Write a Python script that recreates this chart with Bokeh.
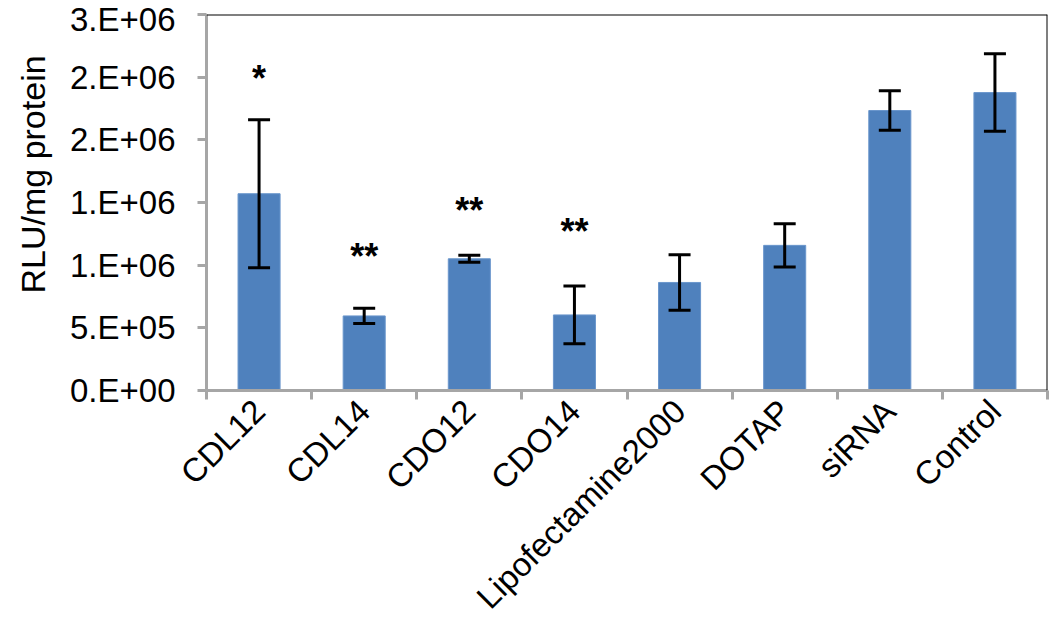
import math
from bokeh.plotting import figure
from bokeh.models import (Range1d, FixedTicker, LinearAxis, ColumnDataSource,
                          Whisker, TeeHead, Span, Title)
from bokeh.core.properties import value
from bokeh.embed import file_html
from bokeh.resources import INLINE

# ---- data ----
categories = ["CDL12", "CDL14", "CDO12", "CDO14", "Lipofectamine2000", "DOTAP", "siRNA", "Control"]
means = [1.57e6, 0.595e6, 1.051e6, 0.603e6, 0.862e6, 1.158e6, 2.234e6, 2.377e6]
errors = [0.59e6, 0.061e6, 0.028e6, 0.23e6, 0.221e6, 0.173e6, 0.157e6, 0.309e6]
star_categories = ["CDL12", "CDL14", "CDO12", "CDO14"]
star_text = ["*", "**", "**", "**"]
star_y = [2.49e6, 1.07e6, 1.435e6, 1.27e6]
y_ticks = [0.0, 5e5, 1e6, 1.5e6, 2e6, 2.5e6, 3e6]
y_tick_labels = ["0.E+00", "5.E+05", "1.E+06", "1.E+06", "2.E+06", "2.E+06", "3.E+06"]
y_label = "RLU/mg protein"

FONT = "Liberation Sans"
BAR = "#4F81BD"
GREY = "#A6A6A6"

xpos = [i + 0.5 for i in range(len(categories))]
src = ColumnDataSource(dict(
    x=xpos, top=means,
    upper=[m + e for m, e in zip(means, errors)],
    lower=[m - e for m, e in zip(means, errors)],
))
star_src = ColumnDataSource(dict(
    x=[categories.index(c) + 0.5 for c in star_categories],
    y=star_y, text=star_text,
))

p = figure(width=1050, height=634,
           x_range=Range1d(0, len(categories)), y_range=Range1d(0, 3e6),
           output_backend="svg", toolbar_location=None,
           x_axis_location=None, y_axis_location=None,
           min_border_left=203, min_border_right=3, min_border_top=14, min_border_bottom=244)
p.xgrid.visible = False
p.ygrid.visible = False
p.outline_line_color = None
p.background_fill_color = "white"
p.border_fill_color = "white"

# y axis
yax = LinearAxis(ticker=FixedTicker(ticks=y_ticks),
                 major_label_overrides={t: l for t, l in zip(y_ticks, y_tick_labels)})
yax.axis_line_color = GREY
yax.axis_line_width = 3
yax.major_tick_line_color = GREY
yax.major_tick_line_width = 3
yax.major_tick_out = 9
yax.major_tick_in = 0
yax.minor_tick_line_color = None
yax.major_label_standoff = 22
yax.major_label_text_font = FONT
yax.major_label_text_font_size = "33px"
yax.major_label_text_color = "black"
p.add_layout(yax, "left")

# y axis title
p.add_layout(Title(text=y_label, align="left", offset=97, standoff=26,
                   vertical_align="top",
                   text_font=FONT, text_font_size="34px", text_font_style="normal",
                   text_color="black"), "left")

# x axis: boundary ticks
xax1 = LinearAxis(ticker=FixedTicker(ticks=list(range(len(categories) + 1))),
                  major_label_overrides={i: "" for i in range(len(categories) + 1)})
xax1.axis_line_color = GREY
xax1.axis_line_width = 3
xax1.major_tick_line_color = GREY
xax1.major_tick_line_width = 3
xax1.major_tick_out = 9
xax1.major_tick_in = 0
xax1.minor_tick_line_color = None
xax1.major_label_standoff = 0
xax1.major_label_text_font_size = "1px"
p.add_layout(xax1, "below")

# x axis: category labels
xax2 = LinearAxis(ticker=FixedTicker(ticks=xpos),
                  major_label_overrides={x: c for x, c in zip(xpos, categories)})
xax2.axis_line_color = None
xax2.major_tick_line_color = None
xax2.minor_tick_line_color = None
xax2.major_label_standoff = 0
xax2.major_label_orientation = math.pi / 4
xax2.major_label_text_font = FONT
xax2.major_label_text_font_size = "33px"
xax2.major_label_text_color = "black"
p.add_layout(xax2, "below")

# bars
p.vbar(x="x", top="top", bottom=0, width=0.4, source=src,
       fill_color=BAR, line_color="#6A96CC", line_width=1)

# error bars
w = Whisker(base="x", upper="upper", lower="lower", source=src,
            line_color="black", line_width=3, level="annotation",
            upper_head=TeeHead(size=22, line_width=3, line_color="black"),
            lower_head=TeeHead(size=22, line_width=3, line_color="black"))
p.add_layout(w)

# significance stars
p.text(x="x", y="y", text="text", source=star_src,
       text_font=value(FONT), text_font_size="36px", text_font_style="bold",
       text_align="center", text_baseline="middle", text_color="black")

# top and right black frame lines
p.add_layout(Span(location=3e6, dimension="width", line_color="black", line_width=2))
p.add_layout(Span(location=len(categories), dimension="height", line_color="black", line_width=2))

open("out.html", "w").write(file_html(p, INLINE))
